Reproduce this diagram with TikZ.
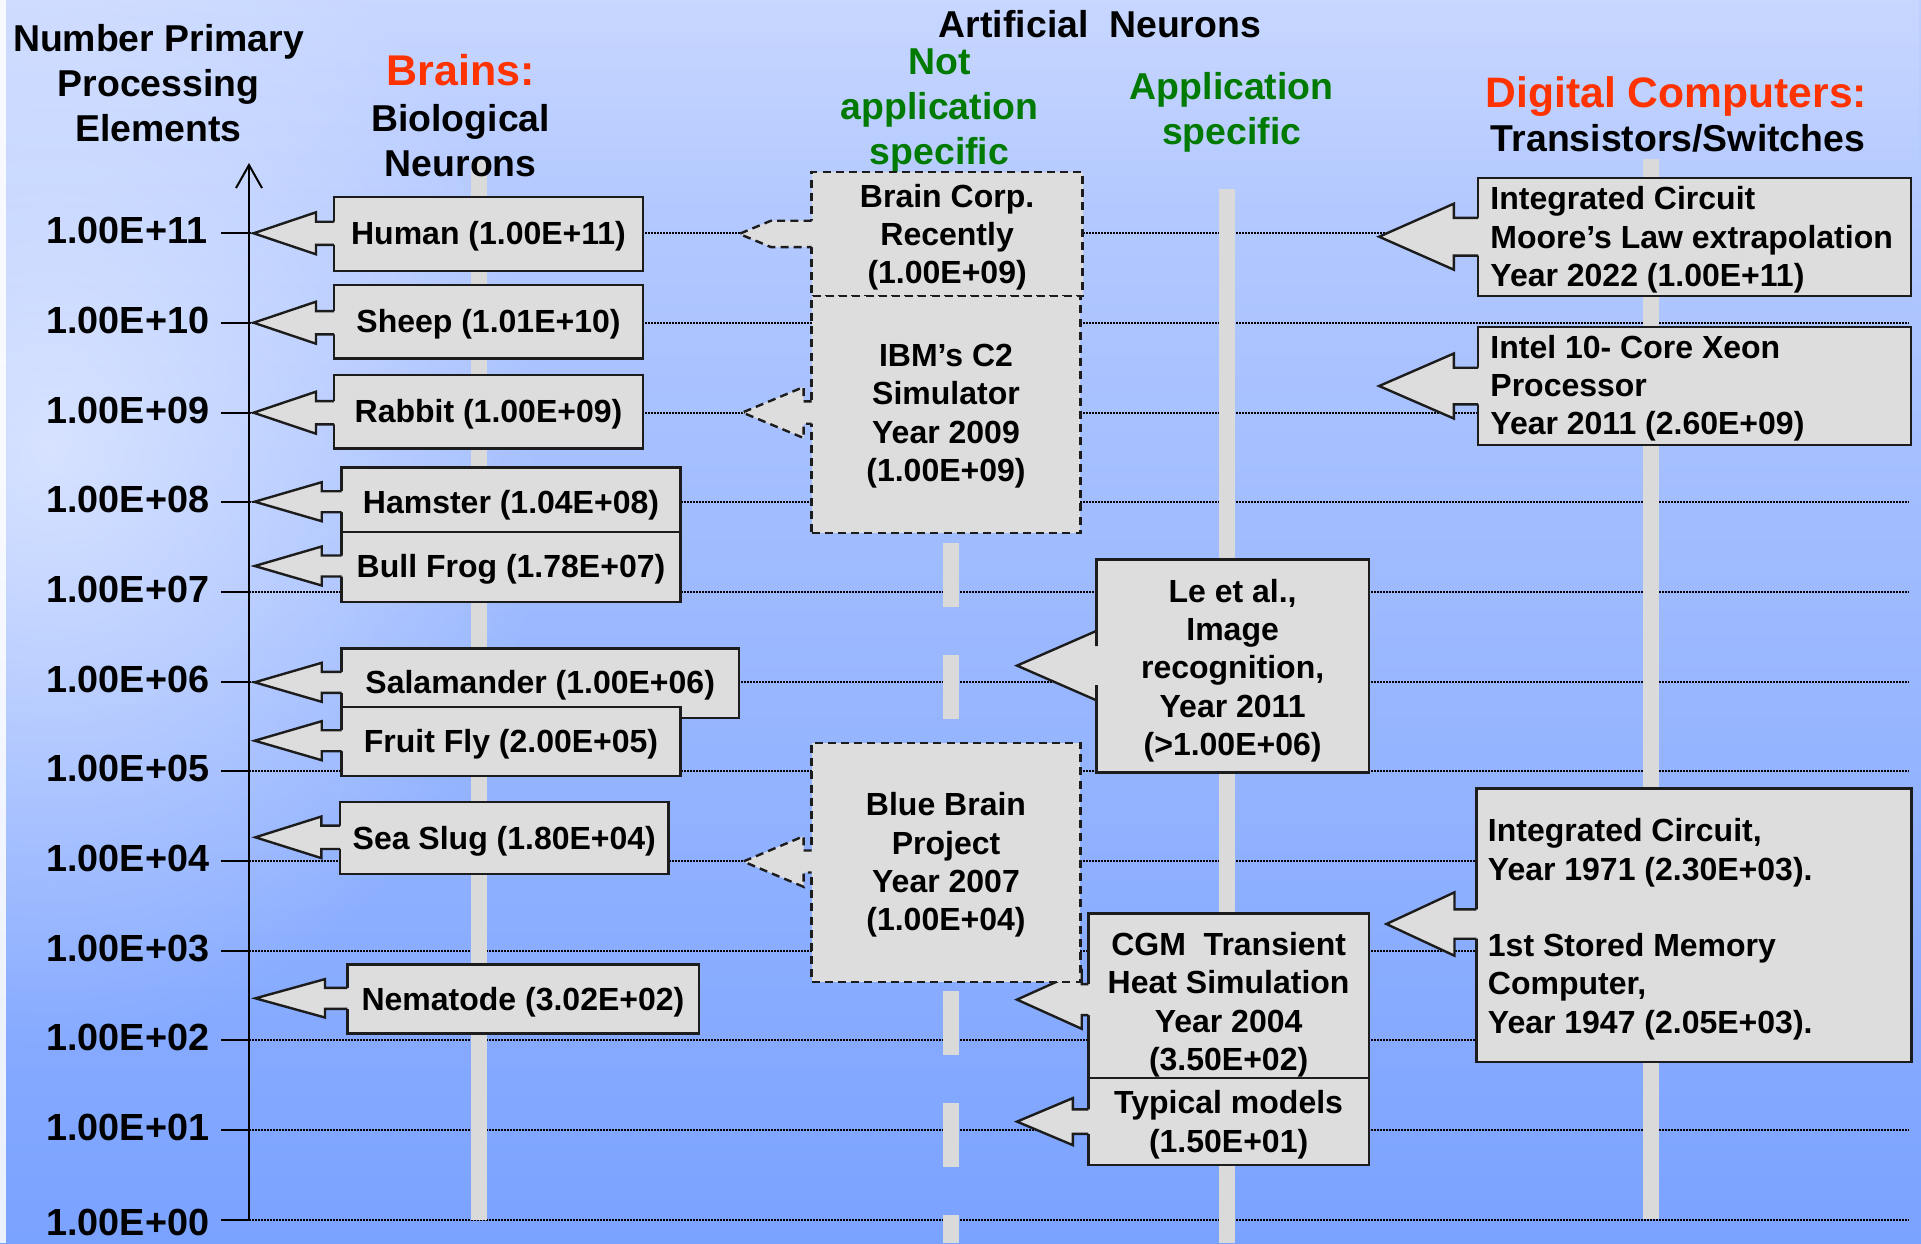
\documentclass[tikz,border=0pt]{standalone}
\usepackage{fontspec}
\setmainfont{Liberation Sans}
\usetikzlibrary{arrows.meta,fadings,calc}

\definecolor{boxgray}{RGB}{221,221,221}
\definecolor{bargray}{RGB}{218,218,218}
\definecolor{titlered}{RGB}{255,51,0}
\definecolor{headgreen}{RGB}{0,122,0}
\definecolor{skytop}{RGB}{190,208,255}
\definecolor{skymid}{RGB}{148,181,255}
\definecolor{skybot}{RGB}{122,162,255}
\definecolor{edgeblack}{RGB}{28,28,28}

\tikzfading[name=lefthaze, inner color=transparent!45, outer color=transparent!100]

% box node from its corner coordinates (x1,y1,x2,y2)
\newcommand\calloutbox[6]{%
  \node[#6, minimum width={(#4-#2)*0.5pt}, minimum height={(#5-#3)*0.5pt}]
    (#1) at ({(#2+#4)/2},{(#3+#5)/2}) {};}

% left-pointing arrow of a callout: box, tip x, tip y, head base x, head half-height, neck half-height, style
\newcommand\boxpointer[7]{%
  \coordinate (#1-tip) at (#2,#3);
  \coordinate (#1-root) at (#1.west |- #1-tip);
  \fill[boxgray] ($(#1-root)+(3,-#6)$) -- ($(#1-root)+(0,-#6)$) -- (#4,{#3-#6}) -- (#4,{#3-#5})
     -- (#1-tip) -- (#4,{#3+#5}) -- (#4,{#3+#6}) -- ($(#1-root)+(0,#6)$) -- ($(#1-root)+(3,#6)$) -- cycle;
  \draw[#7] ($(#1-root)+(0,-#6)$) -- (#4,{#3-#6}) -- (#4,{#3-#5}) -- (#1-tip)
     -- (#4,{#3+#5}) -- (#4,{#3+#6}) -- ($(#1-root)+(0,#6)$);
}

\begin{document}
\begin{tikzpicture}[x=0.5pt, y=-0.5pt,
  cbox/.style={draw=edgeblack, fill=boxgray, line width=1.2pt, inner sep=0pt, outer sep=0pt},
  dbox/.style={cbox, dash pattern=on 4pt off 2.6pt},
  ptr/.style={draw=edgeblack, line width=1.2pt, line join=miter},
  dptr/.style={ptr, dash pattern=on 4pt off 2.6pt},
  btext/.style={font=\fontsize{16}{19.15}\selectfont\bfseries, align=center, inner sep=0pt},
  ltext/.style={btext, align=left, anchor=west},
  htext/.style={font=\fontsize{18.7}{22.5}\selectfont\bfseries, align=center, inner sep=0pt},
  ticklabel/.style={font=\fontsize{18.9}{22.5}\selectfont\bfseries, inner sep=0pt, anchor=base west},
  gridline/.style={draw=black, line width=0.9pt, dash pattern=on 0.75pt off 0.75pt},
  colbar/.style={fill=bargray}]

\useasboundingbox (0,0) rectangle (1921,1243);

% sky background
\shade[top color=skytop, middle color=skymid, bottom color=skybot] (0,0) rectangle (1921,1243);
\fill[white, path fading=lefthaze] (-450,-150) rectangle (550,1050);
\fill[white, opacity=0.15, path fading=south] (0,0) rectangle (1921,220);
\fill[white, opacity=0.85] (0,0) rectangle (6,1243);

% dotted decade lines
\foreach \e in {0,...,11} {
  \pgfmathsetmacro\yy{1219.7-89.67*\e}
  \draw[gridline] (249,\yy) -- (1909,\yy);
}

% column bars
\fill[colbar] (471,160) rectangle (487,1220);
\draw[bargray, line width=8pt, dash pattern=on 31.75pt off 24.25pt] (951,207) -- (951,1243);
\fill[colbar] (1219,189) rectangle (1235,1243);
\fill[colbar] (1643,159) rectangle (1659,1219);

% vertical axis with ticks and labels
\coordinate (axisbot) at (249,1219.7);
\coordinate (axistop) at (249,163);
\draw[line width=1pt, -{Straight Barb[length=11.5pt, width=13pt, line width=1pt]}] (axisbot) -- (axistop);
\foreach \e/\lab in {11/11,10/10,9/09,8/08,7/07,6/06,5/05,4/04,3/03,2/02,1/01,0/00} {
  \pgfmathsetmacro\yy{1219.7-89.67*\e}
  \pgfmathsetmacro\yb{(\e==0)?(\yy+15.3):(\yy+10.5)}
  \draw[line width=1.1pt] (221,\yy) -- (249,\yy);
  \node[ticklabel] (tick\e) at (46,\yb) {1.00E+\lab};
}

% headings
\node[htext] (ylabel) at (158.5,87.7) {\strut Number Primary\\\strut Processing\\\strut Elements};
\node[htext, anchor=base, text=titlered, font=\fontsize{21.5}{25}\selectfont\bfseries] (brains) at (460.9,85) {Brains:};
\node[htext] (bio) at (460.7,144.8) {\strut Biological\\\strut Neurons};
\node[htext, anchor=base] (artif) at (1100,37.5) {Artificial\ \ Neurons};
\node[htext, text=headgreen] (notapp) at (939.5,110.5) {\strut Not\\\strut application\\\strut specific};
\node[htext, text=headgreen] (app) at (1231.7,113.3) {\strut Application\\\strut specific};
\node[htext, anchor=base, text=titlered, font=\fontsize{21.3}{25}\selectfont\bfseries] (digital) at (1676.5,107) {Digital Computers:};
\node[htext, anchor=base] (trans) at (1678,151.7) {Transistors/Switches};

% biological neurons
\calloutbox{human}{334}{196.7}{643}{270.7}{cbox}
\boxpointer{human}{253.6}{233.3}{316}{21}{11.6}{ptr}
\node[btext] (human-text) at (488.5,237) {\strut Human (1.00E+11)};

\calloutbox{sheep}{334}{285}{643}{358.3}{cbox}
\boxpointer{sheep}{253.6}{322.7}{316}{21}{11.6}{ptr}
\node[btext] (sheep-text) at (488.5,325) {\strut Sheep (1.01E+10)};

\calloutbox{rabbit}{334}{375}{643}{448.4}{cbox}
\boxpointer{rabbit}{253.6}{412.7}{316}{21}{11.6}{ptr}
\node[btext] (rabbit-text) at (488.5,415) {\strut Rabbit (1.00E+09)};

\calloutbox{hamster}{341.6}{467.3}{680.3}{531.7}{cbox}
\boxpointer{hamster}{254.7}{501.7}{321.7}{19.5}{10.5}{ptr}
\node[btext] (hamster-text) at (511,506.3) {\strut Hamster (1.04E+08)};

\calloutbox{bullfrog}{341.6}{531.7}{680.3}{601.7}{cbox}
\boxpointer{bullfrog}{254.7}{566}{321.7}{19.5}{10.5}{ptr}
\node[btext] (bullfrog-text) at (511,569.6) {\strut Bull Frog (1.78E+07)};

\calloutbox{salamander}{341.6}{648.3}{738.8}{717.7}{cbox}
\boxpointer{salamander}{254.7}{682.3}{321.7}{19.5}{10.5}{ptr}
\node[btext] (salamander-text) at (540.2,686.3) {\strut Salamander (1.00E+06)};

\calloutbox{fruitfly}{341.6}{706.7}{680.3}{775.7}{cbox}
\boxpointer{fruitfly}{254.7}{740.7}{321.7}{19.5}{10.5}{ptr}
\node[btext] (fruitfly-text) at (511,744.6) {\strut Fruit Fly (2.00E+05)};

\calloutbox{seaslug}{340.2}{801.7}{668.3}{874}{cbox}
\boxpointer{seaslug}{255.4}{837.3}{321.4}{20.8}{11.7}{ptr}
\node[btext] (seaslug-text) at (504.3,841.6) {\strut Sea Slug (1.80E+04)};

\calloutbox{nematode}{347.3}{964.3}{698.7}{1033.3}{cbox}
\boxpointer{nematode}{255.4}{998.3}{325}{19.2}{10.5}{ptr}
\node[btext] (nematode-text) at (523,1003) {\strut Nematode (3.02E+02)};

% artificial neurons
\calloutbox{braincorp}{811.6}{172}{1082.6}{295.7}{dbox}
\boxpointer{braincorp}{739.3}{233.9}{771}{13.2}{13.2}{dptr}
\node[btext] (braincorp-text) at (947.1,237.8) {\strut Brain Corp.\\\strut Recently\\\strut (1.00E+09)};

\calloutbox{ibm}{811.6}{295.7}{1080.4}{532.9}{dbox}
\boxpointer{ibm}{742.4}{412.5}{803.6}{25.5}{11.2}{dptr}
\node[btext] (ibm-text) at (946,416.3) {\strut IBM’s C2\\\strut Simulator\\\strut Year 2009\\\strut (1.00E+09)};

\calloutbox{leetal}{1096.4}{559.3}{1368.75}{772.3}{cbox}
\boxpointer{leetal}{1017}{665.6}{1096.4}{34.7}{19.5}{ptr}
\node[btext] (leetal-text) at (1232.6,671.3) {\strut Le et al.,\\\strut Image\\\strut recognition,\\\strut Year 2011\\\strut (>1.00E+06)};

\calloutbox{cgm}{1088.4}{913.5}{1368.75}{1078}{cbox}
\boxpointer{cgm}{1017}{999.6}{1081.7}{29.2}{15.5}{ptr}
\node[btext] (cgm-text) at (1228.6,1005.3) {\strut CGM\ \ Transient\\\strut Heat Simulation\\\strut Year 2004\\\strut (3.50E+02)};

\calloutbox{typical}{1088.4}{1078}{1368.75}{1164.7}{cbox}
\boxpointer{typical}{1017}{1121.6}{1072.8}{23.5}{12.3}{ptr}
\node[btext] (typical-text) at (1228.6,1125.3) {\strut Typical models\\\strut (1.50E+01)};

\calloutbox{bluebrain}{811.6}{742.7}{1080.4}{981.7}{dbox}
\boxpointer{bluebrain}{743.3}{861.5}{803.6}{25.3}{11}{dptr}
\node[btext] (bluebrain-text) at (946,865.7) {\strut Blue Brain\\\strut Project\\\strut Year 2007\\\strut (1.00E+04)};

% digital computers
\calloutbox{moore}{1478.2}{177.7}{1910.8}{296}{cbox}
\boxpointer{moore}{1379.1}{236.7}{1453.8}{33}{18.9}{ptr}
\node[ltext] (moore-text) at (1490,240.6) {\strut Integrated Circuit\\\strut Moore’s Law extrapolation\\\strut Year 2022 (1.00E+11)};

\calloutbox{intel}{1478.2}{326.7}{1910.8}{445}{cbox}
\boxpointer{intel}{1379.1}{386}{1453.8}{32.5}{18.3}{ptr}
\node[ltext] (intel-text) at (1490,389) {\strut Intel 10- Core Xeon\\\strut Processor\\\strut Year 2011 (2.60E+09)};

\calloutbox{ic}{1476.4}{788.3}{1911.5}{1061.7}{cbox}
\boxpointer{ic}{1386.4}{924}{1454.5}{31.7}{14.7}{ptr}
\node[ltext] (ic-text) at (1487.5,929.8) {\strut Integrated Circuit,\\\strut Year 1971 (2.30E+03).\\\strut\\\strut 1st Stored Memory\\\strut Computer,\\\strut Year 1947 (2.05E+03).};

\end{tikzpicture}
\end{document}
